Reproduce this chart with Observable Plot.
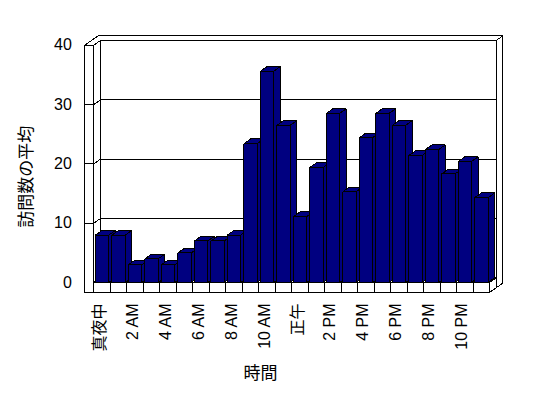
<!DOCTYPE html>
<html>
<head>
<meta charset="utf-8">
<script src="https://cdn.jsdelivr.net/npm/d3@7"></script>
<script src="https://cdn.jsdelivr.net/npm/@observablehq/plot@0.6"></script>
<style>
  html, body { margin: 0; padding: 0; background: white; overflow: hidden; }
</style>
</head>
<body>
<div id="chart"></div>
<script>
// ---- data ----
const hours = [0,1,2,3,4,5,6,7,8,9,10,11,12,13,14,15,16,17,18,19,20,21,22,23];
const visits = [8, 8, 3, 4, 3, 5, 7, 7, 8, 23.4, 35.6, 26.5, 11.1, 19.4, 28.5, 15.3, 24.4, 28.5, 26.5, 21.4, 22.4, 18.3, 20.4, 14.3];
const tickHours = [0, 2, 4, 6, 8, 10, 12, 14, 16, 18, 20, 22];
const tickLabels = ["真夜中", "2 AM", "4 AM", "6 AM", "8 AM", "10 AM", "正午", "2 PM", "4 PM", "6 PM", "8 PM", "10 PM"];
const yTicks = [0, 10, 20, 30, 40];
const gridValues = [10, 20, 30];
const yTitle = "訪問数の平均";
const xTitle = "時間";

// ---- layout ----
const W = 548, H = 398;
const mL = 93.3, mR = 59, mT = 44.7, mB = 116;
const kx = (W - mR - mL) / 24;      // px per hour
const ky = (H - mB - mT) / 40;      // px per unit
// 3D depth in pixels converted to data units
const DX = 6.7 / kx, DY = 4.7 / ky;
const LW = 9 / kx;   // left wall thickness
const FT = 10 / ky;  // floor thickness
const IL = 1.7 / kx, IR = 1.5 / kx; // bar insets

function poly(id, pts) {
  const out = pts.map(([x, y]) => ({id, x, y}));
  out.push({id, x: pts[0][0], y: pts[0][1]});
  return out;
}

const bars = hours.map((h, i) => ({h, v: visits[i], x1: h + IL, x2: h + 1 - IR}));
const sides = bars.flatMap(b => poly("s" + b.h, [[b.x2, 0], [b.x2 + DX, DY], [b.x2 + DX, b.v + DY], [b.x2, b.v]]));
const tops = bars.flatMap(b => poly("t" + b.h, [[b.x1, b.v], [b.x2, b.v], [b.x2 + DX, b.v + DY], [b.x1 + DX, b.v + DY]]));
const fronts = bars.flatMap(b => poly("f" + b.h, [[b.x1, 0], [b.x2, 0], [b.x2, b.v], [b.x1, b.v]]));

const walls = [
  ...poly("back", [[DX, DY], [24 + DX, DY], [24 + DX, 40 + DY], [DX, 40 + DY]]),
  ...poly("leftIn", [[0, 0], [DX, DY], [DX, 40 + DY], [0, 40]]),
  ...poly("floorTop", [[0, 0], [24, 0], [24 + DX, DY], [DX, DY]]),
  ...poly("backRight", [[24 + DX, 40 + DY], [24 + 2 * DX, 40 + 2 * DY], [24 + 2 * DX, -FT + 2 * DY], [24 + DX, -FT + DY]]),
  ...poly("topEdge", [[-LW, 40], [-LW + 2 * DX, 40 + 2 * DY], [24 + 2 * DX, 40 + 2 * DY], [24 + DX, 40 + DY], [DX, 40 + DY], [0, 40]]),
  ...poly("leftFront", [[-LW, -FT], [0, -FT], [0, 40], [-LW, 40]]),
  ...poly("floorFront", [[0, -FT], [24, -FT], [24, 0], [0, 0]]),
  ...poly("floorRight", [[24, 0], [24, -FT], [24 + DX, -FT + DY], [24 + DX, DY]])
];

const backGrid = gridValues.flatMap(v => [{id: v, x: DX, y: v + DY}, {id: v, x: 24 + DX, y: v + DY}]);
const leftGrid = gridValues.flatMap(v => [{id: v, x: -LW, y: v}, {id: v, x: 0, y: v}, {id: v, x: DX, y: v + DY}]);
const dividers = hours.slice(1);
const tickData = tickHours.map((h, i) => ({h, label: tickLabels[i]}));

const lineStyle = {stroke: "black", strokeWidth: 1, strokeLinejoin: "miter", strokeLinecap: "butt", shapeRendering: "crispEdges"};

const chart = Plot.plot({
  width: W, height: H,
  marginLeft: mL, marginRight: mR, marginTop: mT, marginBottom: mB,
  x: {domain: [0, 24], axis: null},
  y: {domain: [0, 40], axis: null},
  style: {fontFamily: "'Liberation Sans', 'Noto Sans CJK JP', sans-serif", fontSize: "16px", background: "white", color: "black"},
  marks: [
    Plot.line(walls, {x: "x", y: "y", z: "id", fill: "white", ...lineStyle}),
    Plot.line(backGrid, {x: "x", y: "y", z: "id", ...lineStyle}),
    Plot.line(leftGrid, {x: "x", y: "y", z: "id", ...lineStyle}),
    Plot.ruleX(dividers, {x: d => d, y1: () => -FT, y2: () => 0, ...lineStyle}),
    Plot.line(sides, {x: "x", y: "y", z: "id", fill: "#000080", ...lineStyle}),
    Plot.line(tops, {x: "x", y: "y", z: "id", fill: "#000080", ...lineStyle}),
    Plot.line(fronts, {x: "x", y: "y", z: "id", fill: "#000080", ...lineStyle}),
    Plot.text(yTicks, {y: d => d, text: d => String(d), frameAnchor: "left", dx: -22, textAnchor: "end", lineAnchor: "middle", fill: "black"}),
    Plot.text(tickData, {x: d => d.h + 0.5, text: "label", frameAnchor: "bottom", dy: 21, dx: -2.5, rotate: -90, textAnchor: "end", lineAnchor: "middle", fill: "black"}),
    Plot.text([yTitle], {text: d => d, frameAnchor: "left", dx: -67, dy: 13, rotate: -90, textAnchor: "middle", lineAnchor: "middle", fontSize: 17, fill: "black"}),
    Plot.text([xTitle], {text: d => d, frameAnchor: "bottom", dx: 260 - (mL + (W - mR)) / 2, dy: 91, textAnchor: "middle", lineAnchor: "middle", fontSize: 17, fill: "black"})
  ]
});
document.getElementById("chart").appendChild(chart);
</script>
</body>
</html>
